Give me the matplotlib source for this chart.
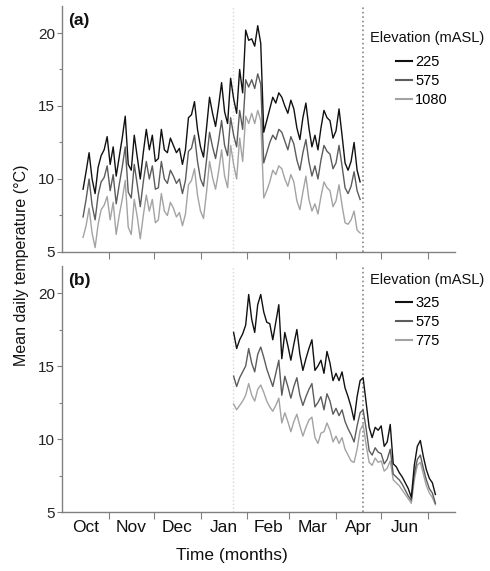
import numpy as np
import matplotlib.pyplot as plt
from matplotlib.lines import Line2D

plt.rcParams['font.family'] = ['Liberation Sans', 'DejaVu Sans']

# days counted from 1 October, one reading every 2 days
startA = 14
startB = 114
step = 2

# panel (a) mean daily temperature (deg C)
tA225 = [9.3, 10.5, 11.8, 10.0, 9.0, 10.8, 11.6, 12.0, 12.9, 11.0,
         12.2, 10.2, 11.5, 12.8, 14.3, 11.0, 10.6, 13.0, 11.5, 10.0,
         11.8, 13.4, 12.0, 13.0, 11.2, 11.4, 13.4, 12.0, 11.8, 12.8,
         12.3, 11.8, 12.1, 11.0, 12.0, 14.2, 14.4, 15.3, 13.4, 12.2,
         11.5, 13.5, 15.6, 14.5, 13.6, 15.0, 16.6, 14.6, 13.8, 16.9,
         15.5, 14.5, 17.5, 15.9, 20.2, 19.5, 19.6, 19.1, 20.5, 19.3,
         13.2, 14.0, 14.8, 15.6, 15.2, 15.9, 15.6, 15.0, 14.5, 15.4,
         14.8, 13.5, 12.7, 14.2, 15.2, 13.5, 12.2, 13.0, 12.0, 13.5,
         14.7, 14.2, 14.0, 12.8, 13.3, 14.8, 13.0, 11.1, 10.6, 11.2,
         12.5, 10.6, 9.8]
tA575 = [7.4, 8.6, 10.0, 8.2, 7.2, 8.9, 9.8, 10.1, 10.9, 9.2,
         10.3, 8.3, 9.6, 10.8, 12.2, 9.1, 8.7, 11.0, 9.6, 8.1,
         9.8, 11.2, 10.0, 10.9, 9.3, 9.4, 11.2, 10.0, 9.7, 10.6,
         10.2, 9.7, 10.0, 9.0, 9.9, 11.9, 12.1, 13.0, 11.2, 10.0,
         9.5, 11.3, 13.2, 12.2, 11.4, 12.6, 14.0, 12.3, 11.6, 14.2,
         13.0, 12.2, 14.7, 13.4, 16.8, 16.3, 16.8, 16.2, 17.2, 16.5,
         11.1, 11.8, 12.5, 13.0, 12.7, 13.4, 13.2, 12.6, 12.0, 12.9,
         12.4, 11.3, 10.6, 11.8, 12.7, 11.2, 10.2, 10.9, 10.0, 11.3,
         12.3, 11.9, 11.7, 10.7, 11.1, 12.3, 10.9, 9.4, 9.0, 9.5,
         10.5, 9.2, 8.6]
tA1080 = [6.0, 6.8, 8.0, 6.3, 5.3, 6.9, 7.9, 8.2, 8.8, 7.2,
          8.4, 6.2, 7.5, 8.6, 9.9, 6.7, 6.2, 8.6, 7.4, 5.9,
          7.5, 8.9, 7.8, 8.6, 7.0, 7.2, 9.0, 7.8, 7.5, 8.4,
          8.0, 7.4, 7.7, 6.8, 7.6, 9.6, 9.9, 10.7, 8.9, 7.8,
          7.3, 9.1, 11.2, 10.1, 9.3, 10.5, 12.0, 10.2, 9.4, 12.3,
          11.0, 10.0, 12.8, 11.2, 14.3, 13.8, 14.5, 13.8, 14.7, 14.0,
          8.7, 9.2, 9.8, 10.6, 10.3, 10.9, 10.7, 10.0, 9.5, 10.3,
          9.8, 8.5, 7.9, 9.1, 10.2, 8.6, 7.8, 8.3, 7.6, 8.8,
          9.8, 9.4, 9.2, 8.1, 8.5, 9.6, 8.2, 7.0, 6.9, 7.2,
          7.8, 6.5, 6.3]

# panel (b)
tB325 = [17.3, 16.2, 16.8, 17.2, 17.8, 19.9, 18.2, 17.3, 19.2, 19.9,
         18.7, 18.0, 17.9, 16.8, 18.0, 19.2, 15.5, 17.3, 16.4, 15.4,
         16.5, 17.5, 15.8, 14.7, 15.5, 16.2, 16.8, 14.7, 15.0, 15.4,
         14.5, 16.0, 15.2, 14.0, 14.5, 14.0, 14.6, 13.5, 12.9, 12.2,
         11.3, 12.9, 14.0, 14.2, 12.5, 10.8, 10.1, 10.8, 10.6, 10.9,
         9.5, 9.8, 11.0, 8.3, 8.1, 7.7, 7.4, 7.0, 6.6, 6.0,
         8.2, 9.5, 9.9, 8.8, 7.9, 7.3, 7.0, 6.2]
tB575 = [14.3, 13.6, 14.2, 14.6, 15.0, 16.2, 15.2, 14.6, 15.8, 16.3,
         15.6, 14.8, 14.2, 13.6, 14.5, 15.4, 13.0, 14.3, 13.6, 12.8,
         13.6, 14.2, 13.0, 12.3, 12.9, 13.4, 13.8, 12.2, 12.5, 12.9,
         12.0, 13.1, 12.6, 11.7, 12.1, 11.6, 12.0, 11.2, 10.7, 10.3,
         9.8, 10.9, 11.8, 12.0, 10.7, 9.2, 8.9, 9.4, 9.1, 9.0,
         8.3, 8.6, 9.3, 7.6, 7.4, 7.2, 6.9, 6.5, 6.1, 5.8,
         7.6, 8.6, 8.9, 8.0, 7.2, 6.6, 6.3, 5.6]
tB775 = [12.4, 12.0, 12.3, 12.6, 13.0, 13.8, 13.0, 12.6, 13.4, 13.7,
         13.2, 12.6, 12.2, 11.9, 12.3, 12.8, 11.1, 11.8, 11.2, 10.5,
         11.2, 11.7, 10.9, 10.2, 10.8, 11.3, 11.5, 10.1, 9.7, 10.4,
         10.5, 11.1, 10.6, 9.8, 10.2, 9.7, 10.1, 9.3, 8.9, 8.5,
         8.4, 9.3, 10.6, 11.0, 9.6, 8.4, 8.2, 8.7, 8.4, 8.5,
         7.8, 8.0, 8.5, 7.2, 7.0, 6.8, 6.5, 6.2, 5.9, 5.6,
         7.2, 8.2, 8.4, 7.6, 6.8, 6.3, 6.0, 5.5]

monthEdges = [31, 61, 92, 123, 151, 182, 212, 243]
monthMids = [15.5, 46, 76.5, 107.5, 137, 166.5, 197, 227.5]
monthNames = ["Oct", "Nov", "Dec", "Jan", "Feb", "Mar", "Apr", "Jun"]
lightLine = 113.5
darkLine = 200

colors = ["#111111", "#5c5c5c", "#a3a3a3"]

fig = plt.figure(figsize=(4.9, 5.71), dpi=100)
axA = fig.add_axes([0.1265, 0.5587, 0.802, 0.4308])
axB = fig.add_axes([0.1265, 0.1033, 0.802, 0.4308])


def setup(ax, tag, show_months):
    ax.set_xlim(0, 261)
    ax.set_ylim(5, 21.85)
    for s in ["top", "right"]:
        ax.spines[s].set_visible(False)
    for s in ["left", "bottom"]:
        ax.spines[s].set_color("#808080")
        ax.spines[s].set_linewidth(1.0)
    ax.set_yticks([5, 10, 15, 20])
    ax.set_yticks([7.5, 12.5, 17.5], minor=True)
    ax.tick_params(axis="y", which="major", length=3.5, width=0.8, color="#808080",
                   pad=1.5, labelsize=11, labelcolor="#222222")
    ax.tick_params(axis="y", which="minor", length=2, width=0.8, color="#808080")
    ax.set_xticks(monthEdges)
    ax.set_xticklabels([])
    ax.tick_params(axis="x", which="major", length=5, width=0.8, color="#808080")
    if show_months:
        ax.set_xticks(monthMids, minor=True)
        ax.set_xticklabels(monthNames, minor=True)
    else:
        ax.set_xticks([], minor=True)
    ax.tick_params(axis="x", which="minor", length=0, pad=6, labelsize=12.5,
                   labelcolor="#111111")
    ax.axvline(lightLine, color="#d8d8d8", linestyle=":", linewidth=1.0)
    ax.axvline(darkLine, color="#888888", linestyle=":", linewidth=1.2)
    ax.text(0.015, 0.943, tag, transform=ax.transAxes, fontsize=12.5,
            fontweight="bold", va="center", ha="left", color="#111111")


setup(axA, "(a)", False)
setup(axB, "(b)", True)

daysA = startA + step * np.arange(len(tA225))
daysB = startB + step * np.arange(len(tB325))

for vals, c in zip([tA1080, tA575, tA225], colors[::-1]):
    axA.plot(daysA, vals, color=c, linewidth=1.0)
for vals, c in zip([tB775, tB575, tB325], colors[::-1]):
    axB.plot(daysB, vals, color=c, linewidth=1.0)


def add_legend(ax, labels, title_y, top_y):
    ax.text(0.784, title_y, "Elevation (mASL)", transform=ax.transAxes,
            fontsize=10.5, va="center", ha="left", color="#111111")
    handles = [Line2D([], [], color=c, linewidth=1.5) for c in colors]
    ax.legend(handles, labels, loc="upper left", bbox_to_anchor=(0.85, top_y),
              frameon=False, handlelength=1.1, handletextpad=0.2,
              borderpad=0, borderaxespad=0, labelspacing=0.35, fontsize=10.5)


add_legend(axA, ["225", "575", "1080"], 0.870, 0.80)
add_legend(axB, ["325", "575", "775"], 0.943, 0.878)

fig.text(0.043, 0.536, "Mean daily temperature (\u00b0C)", rotation=90,
         ha="center", va="center", fontsize=11.5, color="#111111")
fig.text(0.473, 0.028, "Time (months)", ha="center", va="center",
         fontsize=12.5, color="#111111")

fig.savefig("out.png", dpi=100)
